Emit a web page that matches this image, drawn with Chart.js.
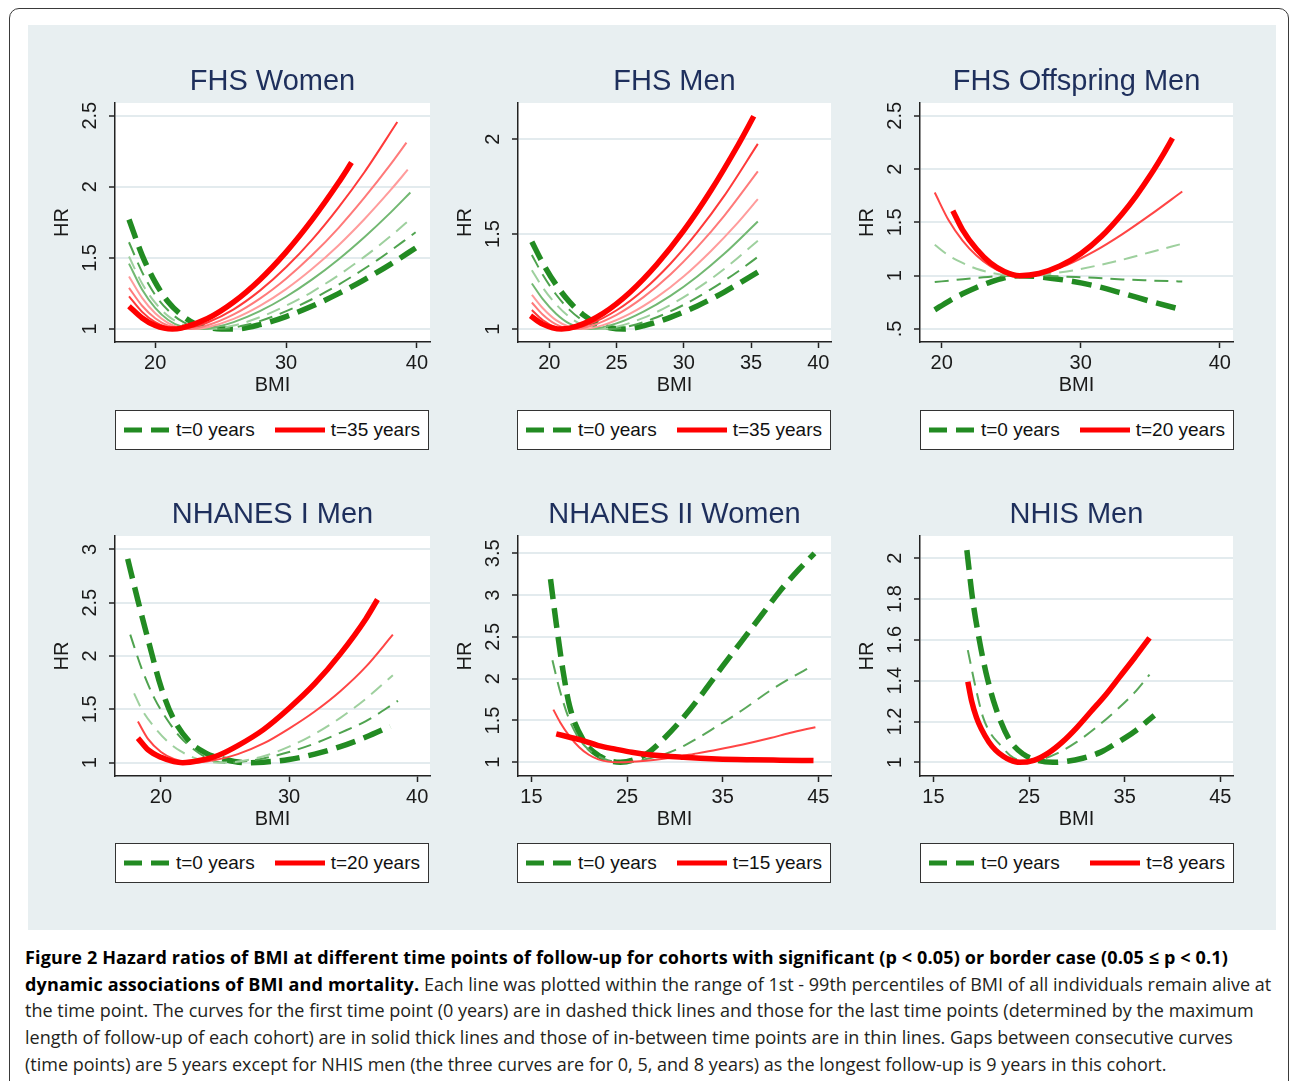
<!DOCTYPE html>
<html>
<head>
<meta charset="utf-8">
<script src="https://cdn.jsdelivr.net/npm/chart.js@4.4.1/dist/chart.umd.min.js"></script>
<style>
  body { margin: 0; background: #fff; width: 1290px; height: 1081px; position: relative; overflow: hidden; font-family: "Liberation Sans", Arial, sans-serif; }
  #frame { position: absolute; left: 9px; top: 8px; width: 1278px; height: 1100px; border: 1.5px solid #3a3a3a; border-radius: 10px; }
  #panel { position: absolute; left: 28px; top: 25px; width: 1248px; height: 905px; background: #e8eff1; }
  canvas { position: absolute; }
  .legend { position: absolute; width: 314px; height: 40px; box-sizing: border-box; background: #fff; border: 1px solid #333; display: flex; align-items: center; justify-content: space-between; padding: 0 8px; font-size: 19px; color: #111; }
  .legend span.it { display: flex; align-items: center; white-space: nowrap; }
  .legend svg { margin-right: 6px; }
  #caption { position: absolute; left: 25px; top: 944px; font-family: "Open Sans", sans-serif; font-size: 18px; line-height: 26.7px; color: #231f20; white-space: nowrap; }
  #caption b { color: #000; font-weight: 700; letter-spacing: 0.15px; }
</style>
</head>
<body>
<div id="frame"></div>
<div id="panel"></div>

<canvas id="c1" width="400" height="337" style="left:40px;top:64px"></canvas>
<canvas id="c2" width="400" height="337" style="left:443px;top:64px"></canvas>
<canvas id="c3" width="400" height="337" style="left:845px;top:64px"></canvas>
<canvas id="c4" width="400" height="338" style="left:40px;top:497px"></canvas>
<canvas id="c5" width="400" height="338" style="left:443px;top:497px"></canvas>
<canvas id="c6" width="400" height="338" style="left:845px;top:497px"></canvas>

<div class="legend" id="l1" style="left:115px;top:410px"></div>
<div class="legend" id="l2" style="left:517px;top:410px"></div>
<div class="legend" id="l3" style="left:920px;top:410px"></div>
<div class="legend" id="l4" style="left:115px;top:843px"></div>
<div class="legend" id="l5" style="left:517px;top:843px"></div>
<div class="legend" id="l6" style="left:920px;top:843px"></div>

<div id="caption">
<div><b>Figure 2 Hazard ratios of BMI at different time points of follow-up for cohorts with significant (p &lt; 0.05) or border case (0.05 ≤ p &lt; 0.1)</b></div>
<div><b>dynamic associations of BMI and mortality.</b> Each line was plotted within the range of 1st - 99th percentiles of BMI of all individuals remain alive at</div>
<div>the time point. The curves for the first time point (0 years) are in dashed thick lines and those for the last time points (determined by the maximum</div>
<div>length of follow-up of each cohort) are in solid thick lines and those of in-between time points are in thin lines. Gaps between consecutive curves</div>
<div>(time points) are 5 years except for NHIS men (the three curves are for 0, 5, and 8 years) as the longest follow-up is 9 years in this cohort.</div>
</div>

<script>
// ---- panel titles and legend labels ----
const titles = ["FHS Women", "FHS Men", "FHS Offspring Men", "NHANES I Men", "NHANES II Women", "NHIS Men"];
const legendFirst = "t=0 years";
const legendLast = ["t=35 years", "t=35 years", "t=20 years", "t=20 years", "t=15 years", "t=8 years"];

// ---- FHS Women (t = 0..35 years) ----
const fwBmi0  = [18, 19, 20, 21, 22, 23, 24, 26, 28, 30, 32, 34, 36, 38, 39.9];
const fwHr0   = [1.77, 1.52, 1.33, 1.19, 1.10, 1.04, 1.012, 1.0, 1.031, 1.088, 1.162, 1.249, 1.348, 1.457, 1.57];
const fwBmi5  = [18, 19, 20, 21, 22, 23, 25, 27, 29, 31, 33, 35, 37, 39.9];
const fwHr5   = [1.61, 1.40, 1.24, 1.13, 1.057, 1.018, 1.0, 1.03, 1.088, 1.166, 1.259, 1.367, 1.486, 1.68];
const fwBmi10 = [18, 19, 20, 21, 22, 23, 24.2, 26, 28, 30, 32, 34, 36, 38, 39.6];
const fwHr10  = [1.51, 1.32, 1.185, 1.091, 1.035, 1.007, 1.0, 1.025, 1.083, 1.164, 1.262, 1.378, 1.509, 1.654, 1.78];
const fwBmi15 = [18, 19, 20, 21, 22, 23.5, 24.5, 26, 28, 30, 32, 34, 36, 38, 39.5];
const fwHr15  = [1.46, 1.278, 1.149, 1.064, 1.018, 1.0, 1.011, 1.049, 1.126, 1.227, 1.349, 1.489, 1.647, 1.82, 1.96];
const fwBmi20 = [18, 19, 20, 21, 22, 22.9, 24, 26, 28, 30, 32, 34, 36, 38, 39.3];
const fwHr20  = [1.37, 1.219, 1.111, 1.042, 1.007, 1.0, 1.013, 1.072, 1.163, 1.281, 1.424, 1.588, 1.774, 1.978, 2.12];
const fwBmi25 = [18, 19, 20, 21, 22.4, 24, 26, 28, 30, 32, 34, 36, 38, 39.2];
const fwHr25  = [1.29, 1.164, 1.076, 1.023, 1.0, 1.027, 1.103, 1.214, 1.354, 1.52, 1.71, 1.925, 2.159, 2.31];
const fwBmi30 = [18, 19, 20, 21, 21.8, 23, 24, 26, 28, 30, 32, 34, 36, 38.5];
const fwHr30  = [1.23, 1.121, 1.048, 1.009, 1.0, 1.017, 1.046, 1.139, 1.27, 1.434, 1.629, 1.854, 2.104, 2.455];
const fwBmi35 = [18, 19, 20, 21.3, 22, 24, 26, 28, 30, 32, 34, 35];
const fwHr35  = [1.16, 1.078, 1.025, 1.0, 1.007, 1.074, 1.19, 1.347, 1.541, 1.769, 2.028, 2.17];

// ---- FHS Men (t = 0..35 years) ----
const fmBmi0  = [18.7, 19.5, 20.5, 21.5, 22.5, 23.5, 24.5, 25.5, 27, 29, 31, 33, 35.5];
const fmHr0   = [1.46, 1.349, 1.234, 1.143, 1.076, 1.031, 1.007, 1.0, 1.017, 1.062, 1.122, 1.195, 1.30];
const fmBmi5  = [18.7, 19.5, 20.5, 21.5, 22.5, 23.5, 24.6, 26, 28, 30, 32, 34, 35.5];
const fmHr5   = [1.39, 1.287, 1.182, 1.101, 1.045, 1.011, 1.0, 1.016, 1.062, 1.128, 1.209, 1.302, 1.38];
const fmBmi10 = [18.7, 19.5, 20.5, 21.5, 22.5, 23.8, 25, 27, 29, 31, 33, 35.5];
const fmHr10  = [1.31, 1.22, 1.13, 1.063, 1.02, 1.0, 1.012, 1.059, 1.127, 1.214, 1.316, 1.465];
const fmBmi15 = [18.7, 19.5, 20.5, 21.5, 23, 25, 27, 29, 31, 33, 35.5];
const fmHr15  = [1.24, 1.159, 1.081, 1.029, 1.0, 1.03, 1.092, 1.175, 1.277, 1.396, 1.566];
const fmBmi20 = [18.7, 19.5, 20.5, 21.5, 22.4, 24, 26, 28, 30, 32, 34, 35.5];
const fmHr20  = [1.18, 1.111, 1.047, 1.011, 1.0, 1.021, 1.081, 1.168, 1.278, 1.41, 1.559, 1.684];
const fmBmi25 = [18.7, 19.5, 20.5, 21.8, 23, 25, 27, 29, 31, 33, 35.5];
const fmHr25  = [1.14, 1.077, 1.025, 1.0, 1.015, 1.075, 1.168, 1.287, 1.431, 1.596, 1.83];
const fmBmi30 = [18.7, 19.5, 20.5, 21.3, 23, 25, 27, 29, 31, 33, 35.5];
const fmHr30  = [1.10, 1.048, 1.009, 1.0, 1.027, 1.099, 1.206, 1.344, 1.51, 1.701, 1.975];
const fmBmi35 = [18.6, 19.5, 20.9, 22, 24, 26, 28, 30, 32, 34, 35.2];
const fmHr35  = [1.07, 1.026, 1.0, 1.014, 1.083, 1.194, 1.341, 1.519, 1.728, 1.965, 2.12];

// ---- FHS Offspring Men (t = 0..20 years) ----
const foBmi0  = [19.5, 20.5, 21.5, 22.5, 23.5, 24.5, 25.5, 27, 29, 31, 33, 35, 37.3];
const foHr0   = [0.68, 0.76, 0.83, 0.89, 0.94, 0.98, 1.0, 0.99, 0.955, 0.905, 0.835, 0.76, 0.68];
const foBmi5  = [19.5, 21, 23, 25, 27, 29, 31, 33, 35, 37.3];
const foHr5   = [0.94, 0.96, 0.985, 1.0, 1.0, 0.99, 0.98, 0.965, 0.955, 0.945];
const foBmi10 = [19.5, 20.5, 21.5, 22.5, 23.5, 24.5, 25.5, 27, 29, 31, 33, 35, 37.3];
const foHr10  = [1.29, 1.19, 1.12, 1.065, 1.03, 1.008, 1.0, 1.007, 1.04, 1.09, 1.15, 1.22, 1.30];
const foBmi15 = [19.5, 20.5, 21.5, 22.5, 23.5, 24.5, 25.5, 27, 29, 31, 33, 35, 37.3];
const foHr15  = [1.78, 1.52, 1.33, 1.19, 1.09, 1.025, 1.0, 1.02, 1.10, 1.23, 1.39, 1.57, 1.79];
const foBmi20 = [20.8, 21.5, 22.5, 23.5, 24.5, 25.6, 27, 28.5, 30, 31.5, 33, 34, 35, 36, 36.6];
const foHr20  = [1.61, 1.43, 1.25, 1.12, 1.04, 1.0, 1.021, 1.09, 1.206, 1.37, 1.584, 1.752, 1.942, 2.153, 2.29];

// ---- NHANES I Men (t = 0..20 years) ----
const n1Bmi0  = [17.4, 18.2, 19, 20, 20.9, 22.2, 23.5, 25, 26.7, 28, 30, 32, 34, 36, 37.9];
const n1Hr0   = [2.91, 2.52, 2.15, 1.71, 1.43, 1.20, 1.09, 1.03, 1.0, 1.005, 1.03, 1.08, 1.15, 1.24, 1.34];
const n1Bmi5  = [17.6, 18.5, 19.5, 20.5, 21.5, 22.5, 23.5, 24.3, 25, 26, 28, 30, 32, 34, 36, 38.5];
const n1Hr5   = [2.20, 1.88, 1.60, 1.40, 1.24, 1.13, 1.05, 1.01, 1.0, 1.005, 1.04, 1.10, 1.18, 1.28, 1.39, 1.58];
const n1Bmi10 = [17.9, 18.5, 19.5, 20.5, 21.5, 22.5, 23.5, 24.5, 26, 28, 30, 32, 34, 36, 38.1];
const n1Hr10  = [1.65, 1.50, 1.33, 1.20, 1.11, 1.05, 1.015, 1.0, 1.01, 1.06, 1.15, 1.27, 1.42, 1.60, 1.82];
const n1Bmi15 = [18.2, 19, 20, 21, 22, 22.7, 24, 26, 28, 30, 32, 34, 36, 38.1];
const n1Hr15  = [1.385, 1.22, 1.10, 1.035, 1.005, 1.0, 1.02, 1.08, 1.18, 1.32, 1.48, 1.67, 1.90, 2.20];
const n1Bmi20 = [18.2, 19, 20, 21, 21.7, 23, 24.5, 26, 28, 30, 32, 34, 36, 36.9];
const n1Hr20  = [1.23, 1.12, 1.05, 1.01, 1.0, 1.02, 1.07, 1.16, 1.31, 1.51, 1.74, 2.02, 2.35, 2.53];

// ---- NHANES II Women (t = 0..15 years) ----
const n2Bmi0  = [17, 17.6, 18.3, 19, 20.4, 22.2, 24.3, 26, 27.4, 29, 31, 33, 35, 37, 39, 41, 43, 44.6];
const n2Hr0   = [3.19, 2.66, 2.10, 1.67, 1.27, 1.07, 1.0, 1.04, 1.13, 1.30, 1.55, 1.84, 2.15, 2.45, 2.75, 3.05, 3.31, 3.50];
const n2Bmi5  = [17.2, 18, 19, 20, 21, 22, 23, 24, 25, 27, 29, 31, 34.4, 37, 40, 42, 44.2];
const n2Hr5   = [2.22, 1.85, 1.50, 1.28, 1.15, 1.07, 1.025, 1.005, 1.0, 1.04, 1.10, 1.20, 1.43, 1.62, 1.86, 2.0, 2.14];
const n2Bmi10 = [17.3, 18, 19, 20, 21, 22, 23, 24, 26, 28, 30, 32, 34.4, 37, 40, 42, 44.7];
const n2Hr10  = [1.63, 1.48, 1.31, 1.18, 1.09, 1.035, 1.008, 1.0, 1.01, 1.03, 1.06, 1.10, 1.15, 1.21, 1.29, 1.35, 1.42];
const n2Bmi15 = [17.6, 19, 20.4, 22, 23.9, 25.5, 27.4, 30.9, 34.4, 38, 41, 44.5];
const n2Hr15  = [1.34, 1.30, 1.26, 1.20, 1.155, 1.12, 1.09, 1.06, 1.04, 1.03, 1.025, 1.02];

// ---- NHIS Men (t = 0, 5, 8 years) ----
const nhBmi0 = [18.5, 19.1, 19.8, 20.5, 21.5, 22.9, 24.4, 26, 27.5, 29, 30.6, 32.5, 34.1, 36, 38.1];
const nhHr0  = [2.04, 1.80, 1.60, 1.44, 1.27, 1.115, 1.04, 1.008, 1.0, 1.005, 1.02, 1.05, 1.093, 1.15, 1.23];
const nhBmi5 = [18.6, 19.4, 20.2, 21, 21.9, 23, 24, 24.7, 26, 28, 30, 32, 34, 36, 37.6];
const nhHr5  = [1.55, 1.37, 1.22, 1.14, 1.09, 1.035, 1.008, 1.0, 1.01, 1.045, 1.10, 1.17, 1.25, 1.34, 1.43];
const nhBmi8 = [18.6, 19, 19.5, 20, 20.8, 21.5, 22.3, 23, 24, 25.5, 27, 28.5, 30, 31.5, 33, 34.5, 36, 37.6];
const nhHr8  = [1.395, 1.30, 1.22, 1.165, 1.10, 1.06, 1.03, 1.012, 1.0, 1.01, 1.045, 1.10, 1.17, 1.25, 1.33, 1.42, 1.51, 1.61];

// ---- axis ticks ----
const xTicks2030 = [20, 30, 40];
const xTicks2540 = [20, 25, 30, 35, 40];
const xTicks1545 = [15, 25, 35, 45];
const yTicksFW = [1, 1.5, 2, 2.5];
const yTicksFM = [1, 1.5, 2];
const yTicksFO = [0.5, 1, 1.5, 2, 2.5];
const yLabelsFO = [".5", "1", "1.5", "2", "2.5"];
const yTicksN1 = [1, 1.5, 2, 2.5, 3];
const yTicksN2 = [1, 1.5, 2, 2.5, 3, 3.5];
const yTicksNH = [1, 1.2, 1.4, 1.6, 1.8, 2];

Chart.defaults.font.family = '"Liberation Sans", Arial, sans-serif';
Chart.defaults.color = "#1a1a1a";

const GREEN = "#228b22", RED = "#ff0000";
const THICK = 5.5, THIN = 2;
const DASH_THICK = [20, 9], DASH_THIN = [14, 8];

function line(bmi, hr, color, width, dash) {
  return {
    data: bmi.map((x, i) => ({ x: x, y: hr[i] })),
    borderColor: color, borderWidth: width, borderDash: dash || [],
    pointRadius: 0, fill: false, cubicInterpolationMode: "monotone",
    borderCapStyle: "butt"
  };
}

const plotBg = {
  id: "plotBg",
  beforeDraw(chart) {
    const a = chart.chartArea, c = chart.ctx;
    c.save();
    c.fillStyle = "#fff";
    c.fillRect(a.left, a.top, a.right - a.left, a.bottom - a.top);
    c.restore();
  }
};

function makeChart(id, title, datasets, xMin, xMax, xTicks, yMin, yMax, yTicks, yLabels, padRight) {
  new Chart(document.getElementById(id), {
    type: "line",
    data: { datasets: datasets },
    options: {
      responsive: false, animation: false,
      layout: { padding: { left: 0, right: padRight, top: 0, bottom: 0 } },
      plugins: {
        legend: { display: false }, tooltip: { enabled: false },
        title: { display: true, text: title, fullSize: false, color: "#1e2f5c",
          font: { size: 29, weight: "normal", lineHeight: "34px" }, padding: { top: 1, bottom: 4 } }
      },
      scales: {
        x: {
          type: "linear", min: xMin, max: xMax,
          afterBuildTicks: s => { s.ticks = xTicks.map(v => ({ value: v })); },
          afterFit: s => { s.height = 59; },
          ticks: { autoSkip: false, maxRotation: 0, padding: 3, font: { size: 20 } },
          grid: { drawOnChartArea: false, drawTicks: true, tickLength: 6, tickColor: "#222", tickWidth: 1.5 },
          border: { display: true, color: "#222", width: 1.5 },
          title: { display: true, text: "BMI", font: { size: 20 }, padding: { top: 0, bottom: 4 } }
        },
        y: {
          type: "linear", min: yMin, max: yMax,
          afterBuildTicks: s => { s.ticks = yTicks.map(v => ({ value: v })); },
          afterFit: s => { s.width = 75; },
          ticks: { autoSkip: false, minRotation: 90, maxRotation: 90, crossAlign: "center", padding: 5, font: { size: 20 },
            callback: v => yLabels ? yLabels[yTicks.indexOf(v)] : String(v) },
          grid: { color: "#e3ebee", lineWidth: 2, drawTicks: true, tickLength: 6, tickColor: "#222", tickWidth: 1.5 },
          border: { display: true, color: "#222", width: 1.5 },
          title: { display: true, text: "HR", font: { size: 20 }, padding: { top: 10, bottom: 0 } }
        }
      }
    },
    plugins: [plotBg]
  });
}

// later time points first so they are drawn on top
makeChart("c1", titles[0], [
  line(fwBmi35, fwHr35, RED, THICK),
  line(fwBmi30, fwHr30, "#ff3a3a", THIN),
  line(fwBmi25, fwHr25, "#ff7a7a", THIN),
  line(fwBmi20, fwHr20, "#ff9c9c", THIN),
  line(fwBmi15, fwHr15, "#72b872", THIN),
  line(fwBmi10, fwHr10, "#9ed09e", THIN, DASH_THIN),
  line(fwBmi5, fwHr5, "#4fa34f", THIN, DASH_THIN),
  line(fwBmi0, fwHr0, GREEN, THICK, DASH_THICK)
], 16.93, 41.0, xTicks2030, 0.909, 2.589, yTicksFW, null, 10);

makeChart("c2", titles[1], [
  line(fmBmi35, fmHr35, RED, THICK),
  line(fmBmi30, fmHr30, "#ff3a3a", THIN),
  line(fmBmi25, fmHr25, "#ff7a7a", THIN),
  line(fmBmi20, fmHr20, "#ff9c9c", THIN),
  line(fmBmi15, fmHr15, "#72b872", THIN),
  line(fmBmi10, fmHr10, "#9ed09e", THIN, DASH_THIN),
  line(fmBmi5, fmHr5, "#4fa34f", THIN, DASH_THIN),
  line(fmBmi0, fmHr0, GREEN, THICK, DASH_THICK)
], 17.67, 40.94, xTicks2540, 0.932, 2.19, yTicksFM, null, 12);

makeChart("c3", titles[2], [
  line(foBmi20, foHr20, RED, THICK),
  line(foBmi15, foHr15, "#ff4545", THIN),
  line(foBmi10, foHr10, "#9ed09e", THIN, DASH_THIN),
  line(foBmi5, foHr5, "#4fa34f", THIN, DASH_THIN),
  line(foBmi0, foHr0, GREEN, THICK, DASH_THICK)
], 18.44, 40.95, xTicks2030, 0.378, 2.62, yTicksFO, yLabelsFO, 12);

makeChart("c4", titles[3], [
  line(n1Bmi20, n1Hr20, RED, THICK),
  line(n1Bmi15, n1Hr15, "#ff4545", THIN),
  line(n1Bmi10, n1Hr10, "#9ed09e", THIN, DASH_THIN),
  line(n1Bmi5, n1Hr5, "#4fa34f", THIN, DASH_THIN),
  line(n1Bmi0, n1Hr0, GREEN, THICK, DASH_THICK)
], 16.41, 41.0, xTicks2030, 0.875, 3.125, yTicksN1, null, 10);

makeChart("c5", titles[4], [
  line(n2Bmi15, n2Hr15, RED, THICK),
  line(n2Bmi10, n2Hr10, "#ff4545", THIN),
  line(n2Bmi5, n2Hr5, "#5aa85a", THIN, DASH_THIN),
  line(n2Bmi0, n2Hr0, GREEN, THICK, DASH_THICK)
], 13.6, 46.33, xTicks1545, 0.836, 3.707, yTicksN2, null, 12);

makeChart("c6", titles[5], [
  line(nhBmi8, nhHr8, RED, THICK),
  line(nhBmi5, nhHr5, "#5aa85a", THIN, DASH_THIN),
  line(nhBmi0, nhHr0, GREEN, THICK, DASH_THICK)
], 13.6, 46.33, xTicks1545, 0.933, 2.109, yTicksNH, null, 12);

// legends: first (dashed thick green) and last (solid thick red) time point
function legend(id, lastLabel) {
  const el = document.getElementById(id);
  el.innerHTML =
    '<span class="it"><svg width="46" height="6"><line x1="0" y1="3" x2="46" y2="3" stroke="' + GREEN +
    '" stroke-width="5" stroke-dasharray="18 9"/></svg>' + legendFirst + '</span>' +
    '<span class="it"><svg width="50" height="6"><line x1="0" y1="3" x2="50" y2="3" stroke="' + RED +
    '" stroke-width="5"/></svg>' + lastLabel + '</span>';
}
legendLast.forEach((lab, i) => legend("l" + (i + 1), lab));
</script>
</body>
</html>
